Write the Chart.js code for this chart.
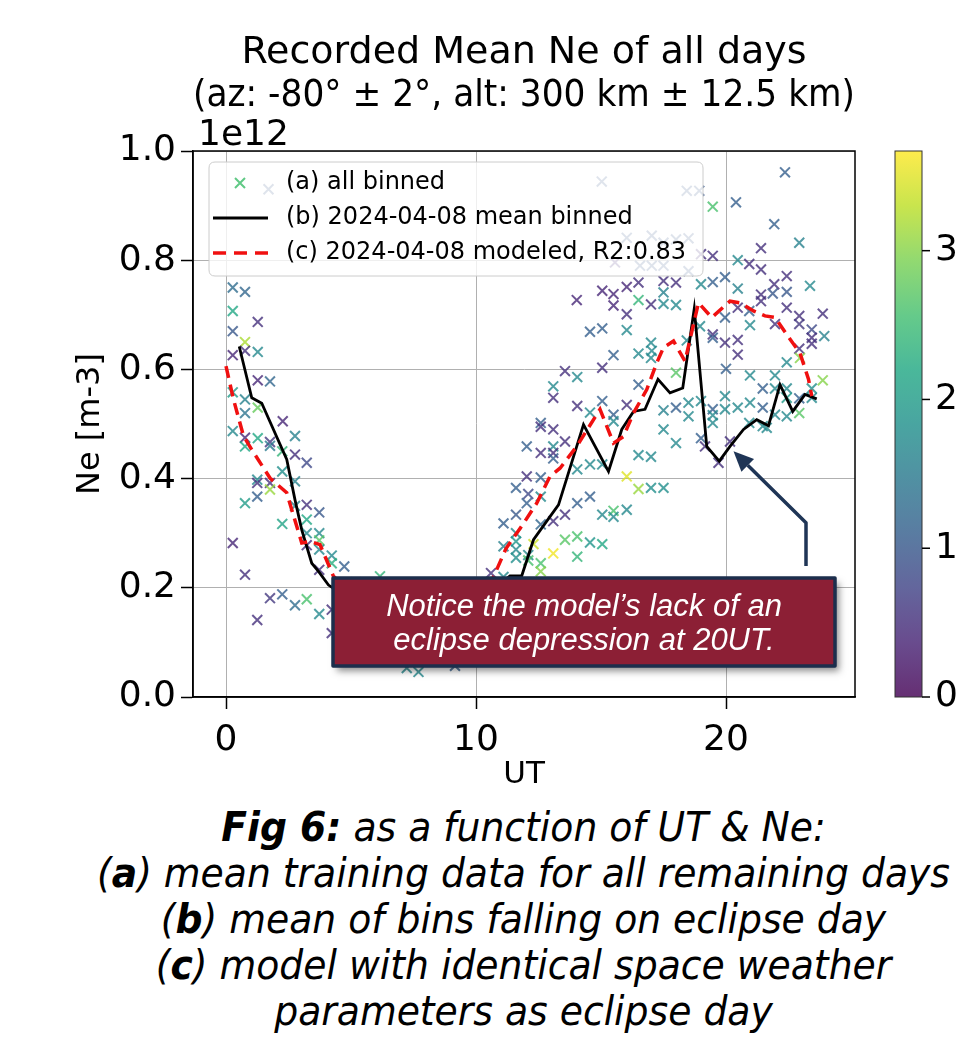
<!DOCTYPE html>
<html><head><meta charset="utf-8">
<script src="https://cdn.jsdelivr.net/npm/chart.js@4.4.1/dist/chart.umd.min.js"></script>
<style>
html,body{margin:0;padding:0;background:#fff;overflow:hidden;width:960px;height:1056px;}
#c{position:absolute;left:0;top:0;}
#cap{position:absolute;left:0;top:804px;width:1047px;text-align:center;font-family:"DejaVu Sans Condensed","DejaVu Sans",sans-serif;font-style:italic;font-size:41px;line-height:46px;color:#000;white-space:nowrap;transform-origin:523.5px 0;}
#cap b{font-weight:bold;}
#cap span{display:inline-block;}
</style></head><body>
<canvas id="c" width="960" height="800"></canvas>
<div id="cap">
<div><span><b>Fig 6:</b> as a function of UT &amp; Ne:</span></div>
<div><span id="capRef">(<b>a</b>) mean training data for all remaining days</span></div>
<div><span>(<b>b</b>) mean of bins falling on eclipse day</span></div>
<div><span>(<b>c</b>) model with identical space weather</span></div>
<div><span>parameters as eclipse day</span></div>
</div>
<script>
// ---------- text ----------
const titleLines = ['Recorded Mean Ne of all days', '(az: -80° ± 2°, alt: 300 km ± 12.5 km)'];
const xLabel = 'UT';
const yLabel = 'Ne [m-3]';
const yOffsetLabel = '1e12';
const legendLabels = ['(a) all binned', '(b) 2024-04-08 mean binned', '(c) 2024-04-08 modeled, R2:0.83'];
const noteLines = ['Notice the model’s lack of an', 'eclipse depression at 20UT.'];

// ---------- ticks ----------
const xTicks = [0, 10, 20];
const yTicks = [0, 0.2, 0.4, 0.6, 0.8, 1.0];
const cbTicks = [0, 1, 2, 3];
const cbMax = 3.67;

// ---------- (a) all binned scatter: UT, Ne (1e12 m-3), colour value ----------
const scatterUT = [
 0.27,0.76,0.27,1.27,0.27,0.76,0.27,0.76,1.27,1.27,
 1.76,0.27,0.76,1.27,0.76,2.27,0.27,2.76,0.76,1.27,
 1.76,0.76,1.76,2.76,2.25,2.25,3.23,1.25,1.25,1.76,
 1.76,2.76,0.76,1.25,2.25,2.76,3.23,3.23,3.73,3.23,
 3.73,3.73,3.23,3.73,4.23,4.73,4.23,3.73,0.27,0.76,
 1.76,2.25,2.76,3.23,3.73,1.25,4.23,4.23,7.23,7.70,
 9.16,5.20,5.70,6.16,6.70,7.20,8.20,8.70,9.70,10.10,
 4.70,5.20,6.20,8.20,9.70,
 12.03,12.03,11.60,12.03,11.10,11.60,11.10,11.60,11.60,11.60,
 11.60,10.60,11.10,12.09,12.59,12.59,13.09,13.56,12.59,12.09,
 12.09,12.30,12.59,12.59,13.09,13.56,14.05,14.56,15.05,14.05,
 12.59,12.59,13.09,12.59,13.09,13.09,13.09,13.56,13.09,13.09,
 13.56,14.05,14.03,15.05,15.50,15.50,16.03,16.50,16.03,16.50,
 17.00,17.50,17.50,17.50,14.56,15.05,16.03,15.50,16.50,17.00,
 17.00,15.05,16.50,14.05,15.05,16.03,14.56,15.50,15.50,14.56,
 15.05,14.05,16.50,17.00,17.50,17.50,14.05,14.56,15.05,15.50,
 15.50,16.03,16.03,16.50,17.00,17.50,
 22.36,20.40,19.47,21.93,22.93,21.40,19.47,20.47,20.93,21.40,
 18.00,19.00,19.47,19.96,20.47,22.43,21.93,23.36,21.40,21.87,
 22.43,21.40,18.00,20.47,20.93,22.43,19.96,21.96,22.93,22.93,
 23.43,23.43,23.43,23.87,23.93,20.96,18.96,19.47,19.47,19.96,
 20.47,20.47,17.03,18.43,22.93,22.43,22.96,20.00,20.96,21.96,
 23.87,18.00,21.47,21.96,22.43,23.43,22.43,22.93,23.43,20.47,
 20.96,19.96,19.96,19.47,19.47,19.47,19.00,18.50,18.50,18.00,
 18.00,19.00,21.47,21.96,22.43,22.93,20.93,21.47,19.16,19.70,
 20.16,21.63,19.00,
 1.70,15.03,18.43,18.93,16.03,17.03,17.50,18.00,18.50,15.56,
 16.56,17.03,17.50,18.50
];
const scatterNe = [
 0.750,0.742,0.707,0.687,0.670,0.650,0.626,0.634,0.632,0.580,
 0.578,0.558,0.545,0.530,0.520,0.505,0.487,0.478,0.475,0.474,
 0.467,0.459,0.460,0.444,0.450,0.413,0.429,0.398,0.392,0.392,
 0.380,0.395,0.355,0.367,0.317,0.350,0.352,0.325,0.338,0.300,
 0.300,0.287,0.278,0.270,0.259,0.239,0.245,0.233,0.282,0.224,
 0.181,0.188,0.168,0.179,0.152,0.141,0.160,0.117,0.053,0.046,
 0.057,0.210,0.200,0.221,0.180,0.160,0.200,0.150,0.190,0.210,
 0.140,0.100,0.120,0.090,0.120,
 0.459,0.404,0.383,0.355,0.318,0.334,0.276,0.300,0.285,0.270,
 0.255,0.227,0.220,0.372,0.367,0.316,0.322,0.334,0.402,0.260,
 0.250,0.280,0.245,0.230,0.263,0.288,0.294,0.283,0.280,0.257,
 0.502,0.495,0.490,0.447,0.459,0.447,0.437,0.468,0.569,0.548,
 0.597,0.586,0.727,0.744,0.738,0.717,0.751,0.759,0.701,0.727,
 0.719,0.762,0.741,0.720,0.669,0.675,0.672,0.626,0.629,0.649,
 0.621,0.603,0.572,0.533,0.542,0.535,0.521,0.517,0.505,0.426,
 0.426,0.417,0.443,0.440,0.490,0.525,0.355,0.367,0.334,0.341,
 0.330,0.343,0.404,0.381,0.383,0.383,
 0.961,0.906,0.898,0.866,0.832,0.822,0.808,0.800,0.793,0.783,
 0.759,0.756,0.760,0.769,0.748,0.771,0.756,0.753,0.737,0.739,
 0.742,0.725,0.718,0.713,0.707,0.713,0.695,0.683,0.698,0.683,
 0.673,0.658,0.647,0.702,0.661,0.681,0.679,0.664,0.658,0.649,
 0.654,0.627,0.634,0.653,0.638,0.613,0.621,0.601,0.589,0.589,
 0.580,0.594,0.565,0.565,0.565,0.565,0.548,0.547,0.548,0.530,
 0.539,0.551,0.527,0.527,0.516,0.502,0.542,0.539,0.514,0.530,
 0.465,0.474,0.530,0.517,0.514,0.520,0.502,0.496,0.459,0.429,
 0.468,0.493,0.811,
 0.930,0.944,0.927,0.927,0.841,0.845,0.832,0.838,0.840,0.796,
 0.790,0.790,0.790,0.780
];
const scatterVal = [
 1.3,1.2,2.2,0.5,1.0,3.2,0.4,0.5,1.7,0.4,
 1.2,2.0,1.6,2.8,1.4,0.4,1.7,1.6,0.4,2.2,
 0.6,2.2,1.5,0.5,2.4,1.8,0.8,1.7,0.5,0.5,
 3.1,1.6,2.0,1.1,2.1,1.6,0.5,2.2,1.0,1.7,
 1.7,2.7,0.5,1.7,1.7,1.1,2.3,0.5,0.4,0.5,
 0.6,1.1,1.3,2.6,1.7,0.5,0.5,0.5,1.7,1.7,
 1.1,1.7,2.2,2.4,1.6,0.8,1.5,1.2,0.6,1.3,
 1.7,1.0,2.0,1.4,0.5,
 1.1,0.5,1.1,1.1,1.1,1.0,1.6,1.7,1.9,1.7,
 1.8,0.5,1.7,0.8,1.7,1.2,0.5,0.5,1.1,1.7,
 2.6,3.4,2.6,3.0,3.6,2.7,2.6,1.9,2.2,2.4,
 1.1,0.5,0.5,0.5,1.7,0.5,1.1,0.5,1.7,0.5,
 0.5,1.7,0.4,0.4,0.4,0.4,0.4,0.5,0.5,2.4,
 0.5,0.5,1.6,1.7,1.1,1.1,1.7,1.1,1.7,1.7,
 1.7,0.5,1.1,0.5,1.1,0.5,1.7,1.1,1.7,1.7,
 1.7,1.7,1.7,1.7,1.7,1.6,1.1,1.1,1.7,2.6,
 1.7,1.7,3.5,3.1,1.8,1.8,
 1.1,1.1,2.6,1.1,1.6,0.5,0.5,1.7,0.5,0.5,
 0.5,1.7,1.1,1.1,1.6,0.5,0.5,1.7,0.5,1.0,
 1.0,0.5,1.7,0.5,1.1,0.5,1.1,0.5,0.5,0.6,
 0.8,0.5,0.5,0.5,1.6,1.7,1.7,0.5,1.1,0.5,
 0.5,0.5,1.7,1.7,0.5,1.7,3.0,1.1,1.7,1.7,
 3.0,2.7,1.1,1.7,1.7,1.8,2.0,1.1,1.7,1.7,
 1.7,1.7,1.7,1.1,1.7,1.7,1.7,1.7,1.7,1.1,
 1.7,1.1,1.1,1.7,1.7,2.7,1.7,1.7,0.5,0.5,
 0.5,1.7,0.5,
 1.0,1.0,1.0,1.0,1.0,1.0,1.0,1.0,1.0,0.5,
 1.0,1.0,1.0,1.0
];

// ---------- (b) 2024-04-08 mean binned ----------
const meanUT = [0.53,1.03,1.43,2.43,2.76,3.03,3.43,3.70,4.10,4.60,5.50,6.50,7.50,8.50,9.50,10.50,11.36,11.83,12.30,12.83,13.30,14.30,15.30,15.83,16.30,16.76,17.28,17.76,18.27,18.73,19.23,19.73,20.16,20.70,21.23,21.70,22.16,22.67,23.16,23.63];
const meanNe = [0.642,0.548,0.538,0.435,0.361,0.306,0.245,0.230,0.205,0.190,0.170,0.150,0.120,0.110,0.140,0.190,0.222,0.222,0.288,0.322,0.352,0.499,0.413,0.490,0.523,0.527,0.582,0.557,0.566,0.711,0.459,0.432,0.459,0.490,0.508,0.497,0.572,0.523,0.554,0.546];

// ---------- (c) 2024-04-08 modeled ----------
const modelUT = [0.00,0.30,0.70,1.03,1.76,2.43,2.63,3.03,3.36,3.76,4.30,5.00,6.00,7.00,8.00,9.00,10.00,10.70,11.20,11.90,12.43,12.96,13.36,14.03,14.96,15.50,15.90,16.30,16.83,17.23,17.50,17.90,18.36,18.90,19.43,20.16,20.56,21.10,21.56,21.96,22.43,22.96,23.30,23.43];
const modelNe = [0.606,0.545,0.478,0.453,0.401,0.374,0.343,0.282,0.285,0.279,0.221,0.190,0.160,0.130,0.120,0.140,0.180,0.220,0.272,0.318,0.355,0.404,0.419,0.459,0.527,0.465,0.477,0.520,0.563,0.612,0.640,0.652,0.615,0.722,0.695,0.725,0.722,0.707,0.698,0.695,0.664,0.630,0.582,0.551];

// ---------- viridis ----------
const VIR = ['#440154','#482475','#414487','#355f8d','#2a788e','#21918c','#22a884','#44bf70','#7ad151','#bddf26','#fde725'];
function hexRgb(h){ return [parseInt(h.substr(1,2),16), parseInt(h.substr(3,2),16), parseInt(h.substr(5,2),16)]; }
function viridis(t, a){
  t = Math.max(0, Math.min(1, t));
  const p = t * 10, i = Math.min(9, Math.floor(p)), f = p - i;
  const c1 = hexRgb(VIR[i]), c2 = hexRgb(VIR[i+1]);
  const c = c1.map((v,k)=>Math.round(v + (c2[k]-v)*f));
  return `rgba(${c[0]},${c[1]},${c[2]},${a})`;
}

const FONT = 'DejaVu Sans';
const RED = '#f01010';

const deco = {
  id: 'deco',
  afterDatasetsDraw(chart){
    const {ctx, chartArea: ca, scales} = chart;
    const xs = scales.x, ys = scales.y, cb = scales.cb;
    ctx.save();
    // frame
    ctx.strokeStyle = '#000'; ctx.lineWidth = 1.5;
    ctx.strokeRect(ca.left, ca.top, ca.right - ca.left, ca.bottom - ca.top);
    // offset label
    ctx.fillStyle = '#000'; ctx.font = `36px "${FONT}"`; ctx.textAlign = 'left'; ctx.textBaseline = 'alphabetic';
    ctx.fillText(yOffsetLabel, ca.left + 5, 145);

    // legend
    const lx = 209, ly = 162, lw = 494, lh = 114, r = 6;
    ctx.beginPath();
    ctx.moveTo(lx + r, ly); ctx.lineTo(lx + lw - r, ly); ctx.quadraticCurveTo(lx + lw, ly, lx + lw, ly + r);
    ctx.lineTo(lx + lw, ly + lh - r); ctx.quadraticCurveTo(lx + lw, ly + lh, lx + lw - r, ly + lh);
    ctx.lineTo(lx + r, ly + lh); ctx.quadraticCurveTo(lx, ly + lh, lx, ly + lh - r);
    ctx.lineTo(lx, ly + r); ctx.quadraticCurveTo(lx, ly, lx + r, ly); ctx.closePath();
    ctx.fillStyle = 'rgba(255,255,255,0.8)'; ctx.fill();
    ctx.strokeStyle = '#cccccc'; ctx.lineWidth = 1; ctx.stroke();
    const rows = [183, 218, 253];
    ctx.strokeStyle = viridis(0.7, 0.85); ctx.lineWidth = 2;
    ctx.beginPath(); ctx.moveTo(240 - 5, rows[0] - 5); ctx.lineTo(240 + 5, rows[0] + 5);
    ctx.moveTo(240 - 5, rows[0] + 5); ctx.lineTo(240 + 5, rows[0] - 5); ctx.stroke();
    ctx.strokeStyle = '#000'; ctx.lineWidth = 2.8;
    ctx.beginPath(); ctx.moveTo(213, rows[1]); ctx.lineTo(268, rows[1]); ctx.stroke();
    ctx.strokeStyle = RED; ctx.lineWidth = 3.5; ctx.setLineDash([13, 8]);
    ctx.beginPath(); ctx.moveTo(213, rows[2]); ctx.lineTo(268, rows[2]); ctx.stroke();
    ctx.setLineDash([]);
    ctx.fillStyle = '#000'; ctx.font = `24px "${FONT}"`; ctx.textBaseline = 'middle';
    legendLabels.forEach((t, i) => ctx.fillText(t, 286, rows[i]));

    // colorbar
    const y0 = cb.getPixelForValue(0), y1 = cb.getPixelForValue(cbMax);
    const gx = 895, gw = 27;
    const g = ctx.createLinearGradient(0, y0, 0, y1);
    for (let k = 0; k <= 20; k++) g.addColorStop(k/20, viridis(k/20, 0.82));
    ctx.fillStyle = g; ctx.fillRect(gx, y1, gw, y0 - y1);
    ctx.strokeStyle = '#333'; ctx.lineWidth = 1; ctx.strokeRect(gx, y1, gw, y0 - y1);
    ctx.strokeStyle = '#000'; ctx.lineWidth = 1.5;
    cbTicks.forEach(v => { const y = cb.getPixelForValue(v); ctx.beginPath(); ctx.moveTo(gx + gw, y); ctx.lineTo(gx + gw + 8, y); ctx.stroke(); });

    // arrow
    const sx = xs.getPixelForValue(23.2), syA = ys.getPixelForValue(0.24), syB = ys.getPixelForValue(0.319);
    const tx = xs.getPixelForValue(20.3), ty = ys.getPixelForValue(0.45);
    const ang = Math.atan2(ty - syB, tx - sx), hl = 20, hw = 9;
    const bx = tx - hl * Math.cos(ang), by = ty - hl * Math.sin(ang);
    ctx.strokeStyle = '#1f3556'; ctx.fillStyle = '#1f3556'; ctx.lineWidth = 3.5; ctx.lineJoin = 'round';
    ctx.beginPath(); ctx.moveTo(sx, syA); ctx.lineTo(sx, syB); ctx.lineTo(bx, by); ctx.stroke();
    ctx.beginPath(); ctx.moveTo(tx, ty);
    ctx.lineTo(bx + hw * Math.sin(ang), by - hw * Math.cos(ang));
    ctx.lineTo(bx - hw * Math.sin(ang), by + hw * Math.cos(ang)); ctx.closePath(); ctx.fill();

    // note box
    const bxl = 333, byt = 578, bw = 502, bh = 88;
    ctx.save();
    ctx.shadowColor = 'rgba(0,0,0,0.45)'; ctx.shadowBlur = 7; ctx.shadowOffsetX = 4; ctx.shadowOffsetY = 5;
    ctx.fillStyle = '#8c1f35'; ctx.fillRect(bxl, byt, bw, bh);
    ctx.restore();
    ctx.strokeStyle = '#1c2e4c'; ctx.lineWidth = 3.5; ctx.strokeRect(bxl, byt, bw, bh);
    ctx.fillStyle = '#fff'; ctx.font = 'italic 31px "Liberation Sans", Arial, sans-serif';
    ctx.textAlign = 'center'; ctx.textBaseline = 'middle';
    ctx.fillText(noteLines[0], bxl + bw/2, 607);
    ctx.fillText(noteLines[1], bxl + bw/2, 641);
    ctx.restore();
  }
};

const tickFont = {family: FONT, size: 36};
new Chart(document.getElementById('c'), {
  type: 'scatter',
  data: {
    datasets: [
      { label: legendLabels[2], data: modelUT.map((x,i)=>({x, y: modelNe[i]})), showLine: true,
        borderColor: RED, borderWidth: 3.5, borderDash: [12, 7], pointRadius: 0, fill: false, order: 0 },
      { label: legendLabels[1], data: meanUT.map((x,i)=>({x, y: meanNe[i]})), showLine: true,
        borderColor: '#000', borderWidth: 2.8, pointRadius: 0, fill: false, order: 1 },
      { label: legendLabels[0], data: scatterUT.map((x,i)=>({x, y: scatterNe[i]})),
        pointStyle: 'crossRot', pointRadius: 7, pointBorderWidth: 2,
        pointBorderColor: scatterVal.map(v => viridis(v / cbMax, 0.8)),
        pointBackgroundColor: scatterVal.map(v => viridis(v / cbMax, 0.8)), order: 2 }
    ]
  },
  options: {
    responsive: false, animation: false, devicePixelRatio: 1, events: [],
    layout: { padding: 0 },
    plugins: {
      legend: { display: false },
      tooltip: { enabled: false },
      title: { display: true, text: titleLines, fullSize: false, color: '#000',
               font: { family: FONT, size: 38, weight: 'normal', lineHeight: 43/38 },
               padding: { top: 31.5, bottom: 33.5 } }
    },
    scales: {
      x: { type: 'linear', position: 'bottom', min: -1.32, max: 25.16,
           afterBuildTicks: s => { s.ticks = xTicks.map(v => ({value: v})); },
           afterFit: s => { s.height = 103; },
           ticks: { font: tickFont, color: '#000', padding: 10, maxRotation: 0, autoSkip: false, callback: v => String(v) },
           grid: { color: '#b0b0b0', lineWidth: 1, tickColor: '#000', tickWidth: 1.5, tickLength: 12 },
           border: { color: '#000', width: 1.5 },
           title: { display: true, text: xLabel, color: '#000', font: { family: FONT, size: 31 }, padding: { top: 0, bottom: 6 } } },
      y: { type: 'linear', position: 'left', min: 0, max: 1.0,
           afterBuildTicks: s => { s.ticks = yTicks.map(v => ({value: v})); },
           afterFit: s => { s.width = 193; },
           ticks: { font: tickFont, color: '#000', padding: 5, autoSkip: false, callback: v => Number(v).toFixed(1) },
           grid: { color: '#b0b0b0', lineWidth: 1, tickColor: '#000', tickWidth: 1.5, tickLength: 12 },
           border: { color: '#000', width: 1.5 },
           title: { display: true, text: yLabel, color: '#000', font: { family: FONT, size: 32 }, padding: { top: 71, bottom: 0 } } },
      cb: { type: 'linear', axis: 'y', position: 'right', min: 0, max: cbMax,
            afterBuildTicks: s => { s.ticks = cbTicks.map(v => ({value: v})); },
            afterFit: s => { s.width = 105; },
            ticks: { font: tickFont, color: '#000', padding: 80, autoSkip: false, callback: v => String(v) },
            grid: { display: false, drawTicks: false },
            border: { display: false } }
    }
  },
  plugins: [deco]
});

// fit caption to its measured width (reference line 2 spans ~853 px)
(function(){
  const ref = document.getElementById('capRef');
  const w = ref.getBoundingClientRect().width;
  if (w > 0) document.getElementById('cap').style.transform = `scaleX(${853 / w})`;
})();
</script>
</body></html>
